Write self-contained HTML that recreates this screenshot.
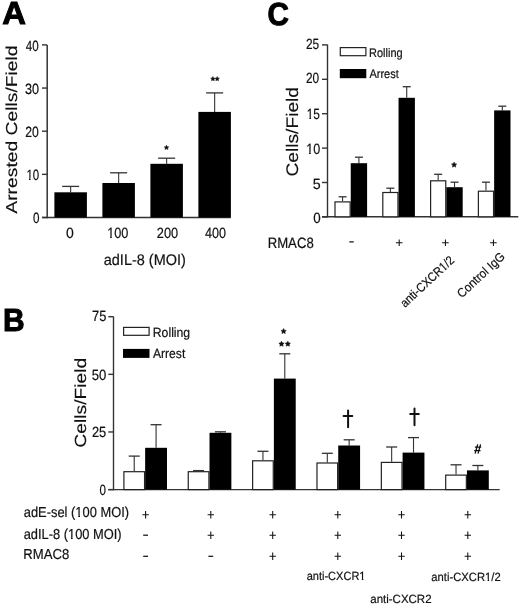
<!DOCTYPE html>
<html><head><meta charset="utf-8"><style>
html,body{margin:0;padding:0;background:#fff;width:520px;height:606px;overflow:hidden}
svg{display:block;will-change:transform}
text{text-rendering:geometricPrecision;font-family:"Liberation Sans", sans-serif;fill:#111;stroke:#111;stroke-width:0.2px}
text.r{stroke-width:0.15px}
text[font-weight=bold]{stroke-width:1px;fill:#000;stroke:#000}
</style></head><body>
<svg width="520" height="606" viewBox="0 0 520 606">
<line x1="47.2" y1="44.9" x2="47.2" y2="218.2" stroke="#333" stroke-width="1.5"/>
<line x1="42.0" y1="217.5" x2="47.2" y2="217.5" stroke="#333" stroke-width="1.4"/>
<line x1="42.0" y1="174.35" x2="47.2" y2="174.35" stroke="#333" stroke-width="1.4"/>
<line x1="42.0" y1="131.2" x2="47.2" y2="131.2" stroke="#333" stroke-width="1.4"/>
<line x1="42.0" y1="88.04999999999998" x2="47.2" y2="88.04999999999998" stroke="#333" stroke-width="1.4"/>
<line x1="42.0" y1="44.89999999999998" x2="47.2" y2="44.89999999999998" stroke="#333" stroke-width="1.4"/>
<line x1="42.0" y1="217.5" x2="230.7" y2="217.5" stroke="#333" stroke-width="1.5"/>
<line x1="70.65" y1="192.3" x2="70.65" y2="186.4" stroke="#333" stroke-width="1.1"/>
<line x1="62.150000000000006" y1="186.4" x2="79.15" y2="186.4" stroke="#333" stroke-width="1.3"/>
<rect x="54.4" y="192.3" width="32.5" height="25.19999999999999" fill="#000"/>
<line x1="118.65" y1="183" x2="118.65" y2="172.8" stroke="#333" stroke-width="1.1"/>
<line x1="110.15" y1="172.8" x2="127.15" y2="172.8" stroke="#333" stroke-width="1.3"/>
<rect x="102.4" y="183" width="32.5" height="34.5" fill="#000"/>
<line x1="166.65" y1="163.8" x2="166.65" y2="158.2" stroke="#333" stroke-width="1.1"/>
<line x1="158.15" y1="158.2" x2="175.15" y2="158.2" stroke="#333" stroke-width="1.3"/>
<rect x="150.4" y="163.8" width="32.5" height="53.69999999999999" fill="#000"/>
<line x1="214.65" y1="111.9" x2="214.65" y2="92.9" stroke="#333" stroke-width="1.1"/>
<line x1="206.15" y1="92.9" x2="223.15" y2="92.9" stroke="#333" stroke-width="1.3"/>
<rect x="198.4" y="111.9" width="32.5" height="105.6" fill="#000"/>
<line x1="327.5" y1="44.6" x2="327.5" y2="217.5" stroke="#333" stroke-width="1.4"/>
<line x1="322.0" y1="216.9" x2="327.5" y2="216.9" stroke="#333" stroke-width="1.4"/>
<line x1="322.0" y1="182.5" x2="327.5" y2="182.5" stroke="#333" stroke-width="1.4"/>
<line x1="322.0" y1="148.10000000000002" x2="327.5" y2="148.10000000000002" stroke="#333" stroke-width="1.4"/>
<line x1="322.0" y1="113.7" x2="327.5" y2="113.7" stroke="#333" stroke-width="1.4"/>
<line x1="322.0" y1="79.30000000000001" x2="327.5" y2="79.30000000000001" stroke="#333" stroke-width="1.4"/>
<line x1="322.0" y1="44.900000000000006" x2="327.5" y2="44.900000000000006" stroke="#333" stroke-width="1.4"/>
<line x1="322.0" y1="216.8" x2="518.3" y2="216.8" stroke="#333" stroke-width="1.4"/>
<line x1="342.575" y1="201.3" x2="342.575" y2="196.8" stroke="#333" stroke-width="1.1"/>
<line x1="338.575" y1="196.8" x2="346.575" y2="196.8" stroke="#333" stroke-width="1.3"/>
<rect x="335.0" y="201.9" width="15.150000000000002" height="14.9" fill="#fff" stroke="#222" stroke-width="1.2"/>
<line x1="358.925" y1="163.2" x2="358.925" y2="157.2" stroke="#333" stroke-width="1.1"/>
<line x1="354.925" y1="157.2" x2="362.925" y2="157.2" stroke="#333" stroke-width="1.3"/>
<rect x="350.75" y="163.2" width="16.35" height="53.60000000000002" fill="#000"/>
<line x1="390.375" y1="191.9" x2="390.375" y2="188.2" stroke="#333" stroke-width="1.1"/>
<line x1="386.375" y1="188.2" x2="394.375" y2="188.2" stroke="#333" stroke-width="1.3"/>
<rect x="382.8" y="192.5" width="15.150000000000002" height="24.300000000000004" fill="#fff" stroke="#222" stroke-width="1.2"/>
<line x1="406.725" y1="97.8" x2="406.725" y2="86.7" stroke="#333" stroke-width="1.1"/>
<line x1="402.725" y1="86.7" x2="410.725" y2="86.7" stroke="#333" stroke-width="1.3"/>
<rect x="398.55" y="97.8" width="16.35" height="119.00000000000001" fill="#000"/>
<line x1="438.175" y1="180.2" x2="438.175" y2="174.3" stroke="#333" stroke-width="1.1"/>
<line x1="434.175" y1="174.3" x2="442.175" y2="174.3" stroke="#333" stroke-width="1.3"/>
<rect x="430.6" y="180.79999999999998" width="15.150000000000002" height="36.00000000000002" fill="#fff" stroke="#222" stroke-width="1.2"/>
<line x1="454.52500000000003" y1="187.2" x2="454.52500000000003" y2="182.2" stroke="#333" stroke-width="1.1"/>
<line x1="450.52500000000003" y1="182.2" x2="458.52500000000003" y2="182.2" stroke="#333" stroke-width="1.3"/>
<rect x="446.35" y="187.2" width="16.35" height="29.600000000000023" fill="#000"/>
<line x1="485.97499999999997" y1="190.6" x2="485.97499999999997" y2="182.2" stroke="#333" stroke-width="1.1"/>
<line x1="481.97499999999997" y1="182.2" x2="489.97499999999997" y2="182.2" stroke="#333" stroke-width="1.3"/>
<rect x="478.4" y="191.2" width="15.150000000000002" height="25.600000000000016" fill="#fff" stroke="#222" stroke-width="1.2"/>
<line x1="502.325" y1="110.4" x2="502.325" y2="106.2" stroke="#333" stroke-width="1.1"/>
<line x1="498.325" y1="106.2" x2="506.325" y2="106.2" stroke="#333" stroke-width="1.3"/>
<rect x="494.15" y="110.4" width="16.35" height="106.4" fill="#000"/>
<rect x="340.3" y="47.6" width="25.6" height="8.1" fill="#fff" stroke="#222" stroke-width="1.2"/>
<rect x="339.8" y="69.0" width="26.5" height="9.2" fill="#000"/>
<line x1="113.5" y1="316.6" x2="113.5" y2="490.3" stroke="#333" stroke-width="1.4"/>
<line x1="108.3" y1="489.6" x2="113.5" y2="489.6" stroke="#333" stroke-width="1.4"/>
<line x1="108.3" y1="431.96750000000003" x2="113.5" y2="431.96750000000003" stroke="#333" stroke-width="1.4"/>
<line x1="108.3" y1="374.33500000000004" x2="113.5" y2="374.33500000000004" stroke="#333" stroke-width="1.4"/>
<line x1="108.3" y1="316.70250000000004" x2="113.5" y2="316.70250000000004" stroke="#333" stroke-width="1.4"/>
<line x1="108.3" y1="489.6" x2="499.7" y2="489.6" stroke="#333" stroke-width="1.4"/>
<line x1="134.225" y1="471.1" x2="134.225" y2="456.1" stroke="#333" stroke-width="1.1"/>
<line x1="128.725" y1="456.1" x2="139.725" y2="456.1" stroke="#333" stroke-width="1.3"/>
<rect x="123.89999999999999" y="471.70000000000005" width="20.650000000000002" height="17.9" fill="#fff" stroke="#222" stroke-width="1.2"/>
<line x1="156.07500000000002" y1="447.8" x2="156.07500000000002" y2="424.7" stroke="#333" stroke-width="1.1"/>
<line x1="150.57500000000002" y1="424.7" x2="161.57500000000002" y2="424.7" stroke="#333" stroke-width="1.3"/>
<rect x="145.15" y="447.8" width="21.85" height="41.80000000000001" fill="#000"/>
<line x1="198.585" y1="471.1" x2="198.585" y2="470.6" stroke="#333" stroke-width="1.1"/>
<line x1="193.085" y1="470.6" x2="204.085" y2="470.6" stroke="#333" stroke-width="1.3"/>
<rect x="188.26" y="471.70000000000005" width="20.650000000000002" height="17.9" fill="#fff" stroke="#222" stroke-width="1.2"/>
<line x1="220.435" y1="432.8" x2="220.435" y2="431.8" stroke="#333" stroke-width="1.1"/>
<line x1="214.935" y1="431.8" x2="225.935" y2="431.8" stroke="#333" stroke-width="1.3"/>
<rect x="209.51" y="432.8" width="21.85" height="56.80000000000001" fill="#000"/>
<line x1="262.945" y1="460.2" x2="262.945" y2="451.3" stroke="#333" stroke-width="1.1"/>
<line x1="257.445" y1="451.3" x2="268.445" y2="451.3" stroke="#333" stroke-width="1.3"/>
<rect x="252.61999999999998" y="460.8" width="20.650000000000002" height="28.800000000000033" fill="#fff" stroke="#222" stroke-width="1.2"/>
<line x1="284.795" y1="378.6" x2="284.795" y2="353.8" stroke="#333" stroke-width="1.1"/>
<line x1="279.295" y1="353.8" x2="290.295" y2="353.8" stroke="#333" stroke-width="1.3"/>
<rect x="273.87" y="378.6" width="21.85" height="111.0" fill="#000"/>
<line x1="327.305" y1="462.4" x2="327.305" y2="453.3" stroke="#333" stroke-width="1.1"/>
<line x1="321.805" y1="453.3" x2="332.805" y2="453.3" stroke="#333" stroke-width="1.3"/>
<rect x="316.98" y="463.0" width="20.650000000000002" height="26.600000000000044" fill="#fff" stroke="#222" stroke-width="1.2"/>
<line x1="349.15500000000003" y1="445.5" x2="349.15500000000003" y2="439.8" stroke="#333" stroke-width="1.1"/>
<line x1="343.65500000000003" y1="439.8" x2="354.65500000000003" y2="439.8" stroke="#333" stroke-width="1.3"/>
<rect x="338.23" y="445.5" width="21.85" height="44.10000000000002" fill="#000"/>
<line x1="391.665" y1="461.8" x2="391.665" y2="447.0" stroke="#333" stroke-width="1.1"/>
<line x1="386.165" y1="447.0" x2="397.165" y2="447.0" stroke="#333" stroke-width="1.3"/>
<rect x="381.34000000000003" y="462.40000000000003" width="20.650000000000002" height="27.20000000000001" fill="#fff" stroke="#222" stroke-width="1.2"/>
<line x1="413.51500000000004" y1="452.6" x2="413.51500000000004" y2="437.6" stroke="#333" stroke-width="1.1"/>
<line x1="408.01500000000004" y1="437.6" x2="419.01500000000004" y2="437.6" stroke="#333" stroke-width="1.3"/>
<rect x="402.59000000000003" y="452.6" width="21.85" height="37.0" fill="#000"/>
<line x1="456.02500000000003" y1="474.5" x2="456.02500000000003" y2="464.8" stroke="#333" stroke-width="1.1"/>
<line x1="450.52500000000003" y1="464.8" x2="461.52500000000003" y2="464.8" stroke="#333" stroke-width="1.3"/>
<rect x="445.70000000000005" y="475.1" width="20.650000000000002" height="14.500000000000023" fill="#fff" stroke="#222" stroke-width="1.2"/>
<line x1="477.87500000000006" y1="470.4" x2="477.87500000000006" y2="465.5" stroke="#333" stroke-width="1.1"/>
<line x1="472.37500000000006" y1="465.5" x2="483.37500000000006" y2="465.5" stroke="#333" stroke-width="1.3"/>
<rect x="466.95000000000005" y="470.4" width="21.85" height="19.200000000000045" fill="#000"/>
<rect x="123.6" y="327.4" width="25.5" height="7.9" fill="#fff" stroke="#222" stroke-width="1.2"/>
<rect x="123.0" y="348.9" width="26.5" height="9.0" fill="#000"/>
<polygon points="166.50,145.20 167.21,146.63 168.78,146.86 167.64,147.97 167.91,149.54 166.50,148.80 165.09,149.54 165.36,147.97 164.22,146.86 165.79,146.63" fill="#111" stroke="#111" stroke-width="0.5" stroke-linejoin="round"/>
<polygon points="212.90,76.60 213.58,77.97 215.09,78.19 213.99,79.26 214.25,80.76 212.90,80.05 211.55,80.76 211.81,79.26 210.71,78.19 212.22,77.97" fill="#111" stroke="#111" stroke-width="0.5" stroke-linejoin="round"/>
<polygon points="217.20,76.60 217.88,77.97 219.39,78.19 218.29,79.26 218.55,80.76 217.20,80.05 215.85,80.76 216.11,79.26 215.01,78.19 216.52,77.97" fill="#111" stroke="#111" stroke-width="0.5" stroke-linejoin="round"/>
<polygon points="454.10,162.10 454.92,163.77 456.76,164.03 455.43,165.33 455.75,167.17 454.10,166.30 452.45,167.17 452.77,165.33 451.44,164.03 453.28,163.77" fill="#111" stroke="#111" stroke-width="0.5" stroke-linejoin="round"/>
<path d="M395.90 242.80H402.50M399.20 239.50V246.10" stroke="#111" stroke-width="1.05" fill="none"/>
<path d="M442.10 242.80H448.70M445.40 239.50V246.10" stroke="#111" stroke-width="1.05" fill="none"/>
<path d="M490.10 242.80H496.70M493.40 239.50V246.10" stroke="#111" stroke-width="1.05" fill="none"/>
<path d="M349.30 241.90H353.70" stroke="#111" stroke-width="1.25" fill="none"/>
<polygon points="283.60,328.50 284.42,330.17 286.26,330.43 284.93,331.73 285.25,333.57 283.60,332.70 281.95,333.57 282.27,331.73 280.94,330.43 282.78,330.17" fill="#111" stroke="#111" stroke-width="0.5" stroke-linejoin="round"/>
<polygon points="281.50,341.20 282.32,342.87 284.16,343.13 282.83,344.43 283.15,346.27 281.50,345.40 279.85,346.27 280.17,344.43 278.84,343.13 280.68,342.87" fill="#111" stroke="#111" stroke-width="0.5" stroke-linejoin="round"/>
<polygon points="287.80,341.20 288.62,342.87 290.46,343.13 289.13,344.43 289.45,346.27 287.80,345.40 286.15,346.27 286.47,344.43 285.14,343.13 286.98,342.87" fill="#111" stroke="#111" stroke-width="0.5" stroke-linejoin="round"/>
<path d="M348.1 410.6V427.2M343.6 416.0H352.3" stroke="#111" stroke-width="2" fill="none" stroke-linecap="round"/>
<path d="M414.5 408.6V425.2M410.2 413.9H418.8" stroke="#111" stroke-width="2" fill="none" stroke-linecap="round"/>
<path d="M477.7 444.3L475.1 453.7M480.6 444.3L478.0 453.7M474.9 447.2H481.2M474.2 450.6H480.5" stroke="#111" stroke-width="1.3" fill="none"/>
<path d="M142.40 514.70H148.80M145.60 511.00V518.40" stroke="#111" stroke-width="1.05" fill="none"/>
<path d="M207.60 514.70H214.00M210.80 511.00V518.40" stroke="#111" stroke-width="1.05" fill="none"/>
<path d="M269.50 514.70H275.90M272.70 511.00V518.40" stroke="#111" stroke-width="1.05" fill="none"/>
<path d="M334.60 514.70H341.00M337.80 511.00V518.40" stroke="#111" stroke-width="1.05" fill="none"/>
<path d="M398.30 514.70H404.70M401.50 511.00V518.40" stroke="#111" stroke-width="1.05" fill="none"/>
<path d="M464.60 514.70H471.00M467.80 511.00V518.40" stroke="#111" stroke-width="1.05" fill="none"/>
<path d="M143.20 535.20H148.00" stroke="#111" stroke-width="1.25" fill="none"/>
<path d="M207.60 535.20H214.00M210.80 531.50V538.90" stroke="#111" stroke-width="1.05" fill="none"/>
<path d="M269.50 535.20H275.90M272.70 531.50V538.90" stroke="#111" stroke-width="1.05" fill="none"/>
<path d="M334.60 535.20H341.00M337.80 531.50V538.90" stroke="#111" stroke-width="1.05" fill="none"/>
<path d="M398.30 535.20H404.70M401.50 531.50V538.90" stroke="#111" stroke-width="1.05" fill="none"/>
<path d="M464.60 535.20H471.00M467.80 531.50V538.90" stroke="#111" stroke-width="1.05" fill="none"/>
<path d="M143.20 556.30H148.00" stroke="#111" stroke-width="1.25" fill="none"/>
<path d="M208.40 556.30H213.20" stroke="#111" stroke-width="1.25" fill="none"/>
<path d="M269.50 556.30H275.90M272.70 552.60V560.00" stroke="#111" stroke-width="1.05" fill="none"/>
<path d="M334.60 556.30H341.00M337.80 552.60V560.00" stroke="#111" stroke-width="1.05" fill="none"/>
<path d="M398.30 556.30H404.70M401.50 552.60V560.00" stroke="#111" stroke-width="1.05" fill="none"/>
<path d="M464.60 556.30H471.00M467.80 552.60V560.00" stroke="#111" stroke-width="1.05" fill="none"/>
<text x="2.28" y="24.04" font-size="31.90" textLength="23.71" lengthAdjust="spacingAndGlyphs" font-weight="bold">A</text>
<text x="3.07" y="330.72" font-size="31.90" textLength="21.64" lengthAdjust="spacingAndGlyphs" font-weight="bold">B</text>
<text x="267.42" y="24.63" font-size="31.90" textLength="21.41" lengthAdjust="spacingAndGlyphs" font-weight="bold">C</text>
<text x="25.86" y="50.56" font-size="14.90" textLength="12.92" lengthAdjust="spacingAndGlyphs">40</text>
<text x="24.88" y="93.61" font-size="14.90" textLength="14.07" lengthAdjust="spacingAndGlyphs">30</text>
<text x="25.26" y="136.60" font-size="14.90" textLength="13.62" lengthAdjust="spacingAndGlyphs">20</text>
<text x="26.41" y="179.62" font-size="14.90" textLength="12.83" lengthAdjust="spacingAndGlyphs">10</text>
<text x="33.12" y="222.69" font-size="14.90" textLength="6.51" lengthAdjust="spacingAndGlyphs">0</text>
<text x="65.91" y="237.60" font-size="14.75" textLength="7.79" lengthAdjust="spacingAndGlyphs">0</text>
<text x="107.18" y="238.09" font-size="14.75" textLength="21.26" lengthAdjust="spacingAndGlyphs">100</text>
<text x="156.76" y="237.55" font-size="14.75" textLength="21.39" lengthAdjust="spacingAndGlyphs">200</text>
<text x="205.09" y="237.62" font-size="14.75" textLength="21.03" lengthAdjust="spacingAndGlyphs">400</text>
<text x="103.75" y="264.60" font-size="15.40" textLength="82.07" lengthAdjust="spacingAndGlyphs">adIL-8 (MOI)</text>
<text class="r" transform="translate(16.65,213.65) rotate(-90)" font-size="15.86" textLength="168.16" lengthAdjust="spacingAndGlyphs">Arrested Cells/Field</text>
<text x="305.88" y="48.67" font-size="14.80" textLength="13.22" lengthAdjust="spacingAndGlyphs">25</text>
<text x="305.93" y="82.74" font-size="14.80" textLength="13.17" lengthAdjust="spacingAndGlyphs">20</text>
<text x="306.72" y="118.71" font-size="14.80" textLength="13.18" lengthAdjust="spacingAndGlyphs">15</text>
<text x="306.18" y="153.64" font-size="14.80" textLength="13.99" lengthAdjust="spacingAndGlyphs">10</text>
<text x="312.77" y="188.56" font-size="14.80" textLength="7.93" lengthAdjust="spacingAndGlyphs">5</text>
<text x="313.23" y="222.59" font-size="14.80" textLength="7.45" lengthAdjust="spacingAndGlyphs">0</text>
<text class="r" transform="translate(297.65,176.54) rotate(-90)" font-size="16.78" textLength="89.59" lengthAdjust="spacingAndGlyphs">Cells/Field</text>
<text x="369.09" y="56.55" font-size="12.40" textLength="33.53" lengthAdjust="spacingAndGlyphs">Rolling</text>
<text x="369.39" y="77.59" font-size="12.40" textLength="29.47" lengthAdjust="spacingAndGlyphs">Arrest</text>
<text x="267.66" y="247.74" font-size="14.94" textLength="46.04" lengthAdjust="spacingAndGlyphs">RMAC8</text>
<text x="92.11" y="320.61" font-size="14.80" textLength="14.32" lengthAdjust="spacingAndGlyphs">75</text>
<text x="91.82" y="379.58" font-size="14.80" textLength="14.59" lengthAdjust="spacingAndGlyphs">50</text>
<text x="91.96" y="436.73" font-size="14.80" textLength="14.31" lengthAdjust="spacingAndGlyphs">25</text>
<text x="99.57" y="494.70" font-size="14.80" textLength="6.44" lengthAdjust="spacingAndGlyphs">0</text>
<text class="r" transform="translate(85.60,447.66) rotate(-90)" font-size="16.11" textLength="89.96" lengthAdjust="spacingAndGlyphs">Cells/Field</text>
<text x="152.81" y="336.60" font-size="13.30" textLength="37.37" lengthAdjust="spacingAndGlyphs">Rolling</text>
<text x="153.01" y="357.67" font-size="13.30" textLength="32.26" lengthAdjust="spacingAndGlyphs">Arrest</text>
<text x="23.73" y="516.53" font-size="14.40" textLength="105.33" lengthAdjust="spacingAndGlyphs">adE-sel (100 MOI)</text>
<text x="23.70" y="538.58" font-size="14.40" textLength="97.96" lengthAdjust="spacingAndGlyphs">adIL-8 (100 MOI)</text>
<text x="23.22" y="558.72" font-size="14.40" textLength="45.96" lengthAdjust="spacingAndGlyphs">RMAC8</text>
<text x="306.67" y="579.85" font-size="11.90" textLength="58.83" lengthAdjust="spacingAndGlyphs">anti-CXCR1</text>
<text x="370.29" y="602.64" font-size="11.90" textLength="61.26" lengthAdjust="spacingAndGlyphs">anti-CXCR2</text>
<text x="431.35" y="580.65" font-size="11.90" textLength="69.30" lengthAdjust="spacingAndGlyphs">anti-CXCR1/2</text>
<text transform="translate(405.03,307.92) rotate(-43)" font-size="12.50" textLength="68.46" lengthAdjust="spacingAndGlyphs">anti-CXCR1/2</text>
<text transform="translate(461.78,298.56) rotate(-43)" font-size="12.50" textLength="60.12" lengthAdjust="spacingAndGlyphs">Control IgG</text>
<rect x="26.84" y="178.00" width="2.17" height="2.45" fill="#fff"/>
<rect x="30.63" y="178.00" width="2.08" height="2.45" fill="#fff"/>
<rect x="107.70" y="236.00" width="2.39" height="2.45" fill="#fff"/>
<rect x="111.82" y="236.00" width="2.29" height="2.45" fill="#fff"/>
<rect x="307.17" y="117.00" width="2.23" height="2.45" fill="#fff"/>
<rect x="311.05" y="117.00" width="2.13" height="2.45" fill="#fff"/>
<rect x="306.69" y="152.00" width="2.35" height="2.45" fill="#fff"/>
<rect x="310.75" y="152.00" width="2.26" height="2.45" fill="#fff"/>
<rect x="75.84" y="515.00" width="2.41" height="2.45" fill="#fff"/>
<rect x="80.00" y="515.00" width="2.31" height="2.45" fill="#fff"/>
<rect x="68.57" y="537.00" width="2.41" height="2.45" fill="#fff"/>
<rect x="72.71" y="537.00" width="2.31" height="2.45" fill="#fff"/>
<rect x="359.75" y="578.00" width="2.09" height="2.45" fill="#fff"/>
<rect x="363.41" y="578.00" width="2.00" height="2.45" fill="#fff"/>
<rect x="485.43" y="579.00" width="2.12" height="2.45" fill="#fff"/>
<rect x="489.14" y="579.00" width="2.03" height="2.45" fill="#fff"/>
<g transform="translate(405.03,307.92) rotate(-43)"><rect x="53.42" y="-1.43" width="2.10" height="1.88" fill="#fff"/><rect x="57.09" y="-1.43" width="2.01" height="1.88" fill="#fff"/></g>
</svg>
</body></html>
